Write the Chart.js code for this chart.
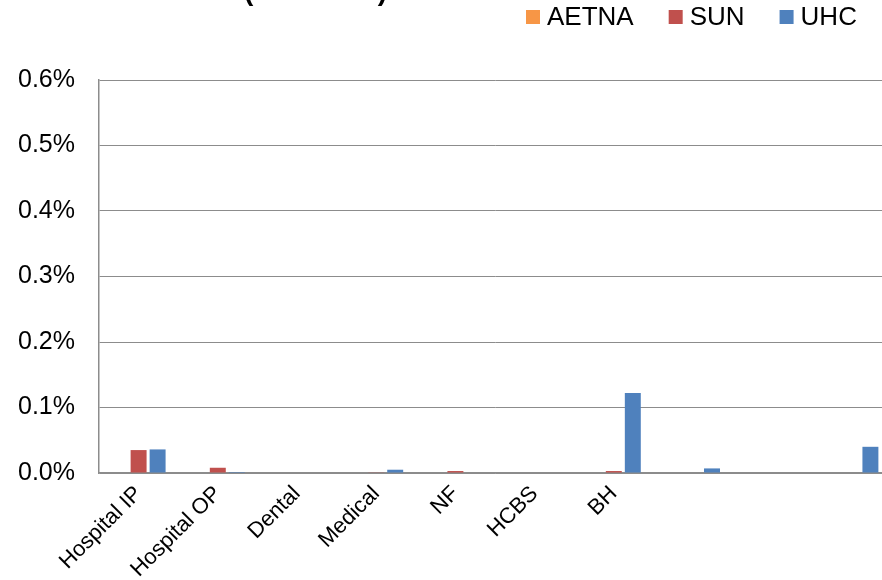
<!DOCTYPE html>
<html>
<head>
<meta charset="utf-8">
<script src="https://cdn.jsdelivr.net/npm/chart.js@4/dist/chart.umd.min.js"></script>
<style>
  html, body { margin: 0; padding: 0; background: #fff; overflow: hidden; }
  #wrap { width: 891px; height: 580px; position: relative; }
</style>
</head>
<body>
<div id="wrap"><canvas id="c"></canvas></div>
<script>
// Service categories (the last three are unlabeled groups)
const categories = ['Hospital IP', 'Hospital OP', 'Dental', 'Medical', 'NF', 'HCBS', 'BH', '', '', ''];

// Rates per plan, in percent
const aetnaValues = [0, 0, 0, 0, 0, 0, 0, 0, 0, 0];
const sunValues   = [0.035, 0.008, 0, 0.0005, 0.003, 0, 0.003, 0, 0, 0];
const uhcValues   = [0.036, 0.0015, 0, 0.005, 0, 0, 0.122, 0.007, 0, 0.04];

// Y axis ticks (percent)
const yTicks = [0, 0.1, 0.2, 0.3, 0.4, 0.5, 0.6];

const seriesNames = ['AETNA', 'SUN', 'UHC'];
const seriesColors = ['#F79646', '#C0504D', '#4F81BD'];

const FONT = '"Liberation Sans", Arial, Helvetica, sans-serif';

// Chart heading, mostly above the canvas edge
const titlePlugin = {
  id: 'topTitle',
  afterDraw(chart) {
    const ctx = chart.ctx;
    ctx.save();
    ctx.font = 'bold 28px ' + FONT;
    ctx.fillStyle = '#000';
    ctx.textBaseline = 'alphabetic';
    ctx.textAlign = 'left';
    const prefix = 'Denied Claim Rate ';
    const w = ctx.measureText(prefix).width;
    ctx.fillText(prefix + '(SFY 2019)', 244 - w, 0);
    ctx.restore();
  }
};

// Legend row at the top right
const legendPlugin = {
  id: 'topLegend',
  afterDraw(chart) {
    const ctx = chart.ctx;
    ctx.save();
    ctx.font = '26px ' + FONT;
    ctx.textBaseline = 'alphabetic';
    ctx.textAlign = 'left';
    let x = 526;
    chart.data.datasets.forEach(ds => {
      ctx.fillStyle = ds.backgroundColor;
      ctx.fillRect(x, 10, 14, 14);
      ctx.fillStyle = '#000';
      ctx.fillText(ds.label, x + 21, 25);
      x += 21 + ctx.measureText(ds.label).width + 35;
    });
    ctx.restore();
  }
};

const datasets = [aetnaValues, sunValues, uhcValues].map((vals, i) => ({
  label: seriesNames[i],
  data: vals,
  backgroundColor: seriesColors[i],
  borderWidth: 0,
  categoryPercentage: 0.72,
  barPercentage: 0.84
}));

new Chart(document.getElementById('c'), {
  type: 'bar',
  data: { labels: categories, datasets },
  plugins: [titlePlugin, legendPlugin],
  options: {
    responsive: true,
    maintainAspectRatio: false,
    animation: false,
    layout: { padding: { top: 80, left: 0, right: 0, bottom: 0 } },
    plugins: {
      legend: { display: false },
      title: { display: false },
      tooltip: { enabled: false }
    },
    scales: {
      x: {
        grid: { display: false, drawTicks: false },
        border: { color: '#8c8c8c', width: 1.5 },
        ticks: {
          color: '#000',
          font: { family: FONT, size: 22 },
          minRotation: 45,
          maxRotation: 45,
          autoSkip: false,
          padding: 8
        },
        afterFit(scale) { scale.height = 107; }
      },
      y: {
        min: yTicks[0],
        max: yTicks[yTicks.length - 1],
        afterBuildTicks(scale) { scale.ticks = yTicks.map(v => ({ value: v })); },
        grid: { color: '#8c8c8c', lineWidth: 1, drawTicks: false },
        border: { color: '#8c8c8c', width: 1.5 },
        ticks: {
          color: '#000',
          font: { family: FONT, size: 25 },
          padding: 24,
          callback: v => v.toFixed(1) + '%'
        },
        afterFit(scale) { scale.width = 99; }
      }
    }
  }
});
</script>
</body>
</html>
